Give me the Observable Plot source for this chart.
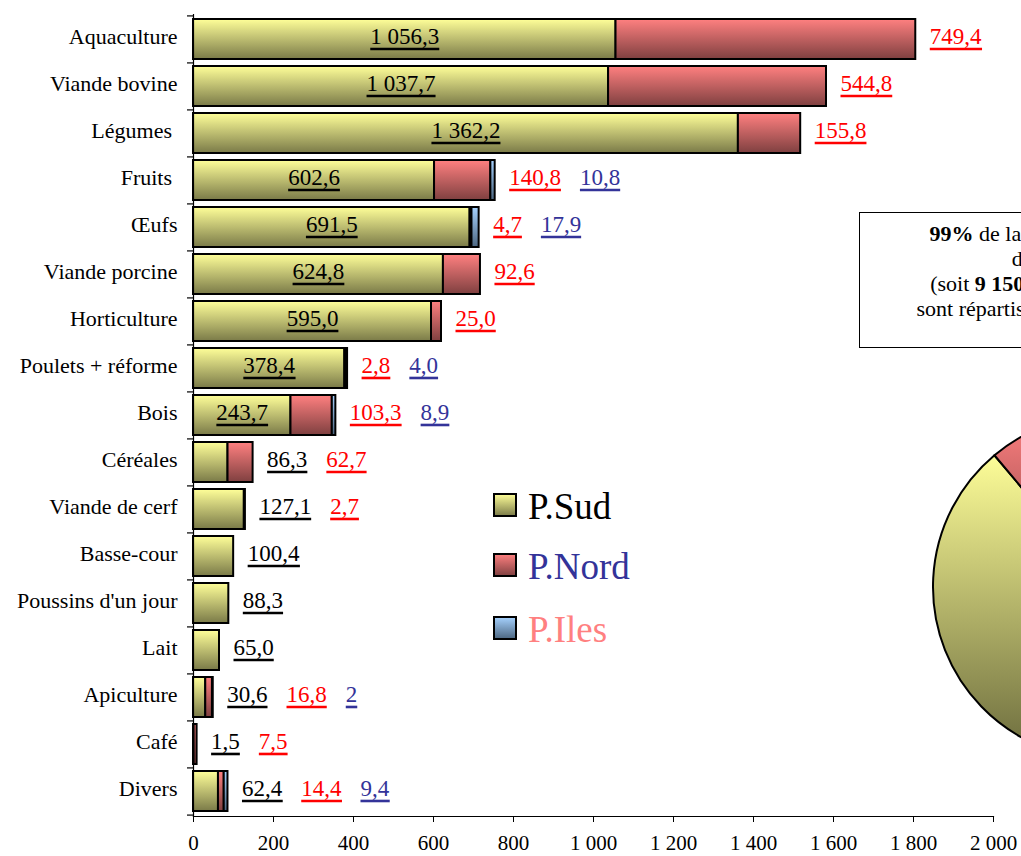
<!DOCTYPE html>
<html><head><meta charset="utf-8">
<script src="https://cdn.jsdelivr.net/npm/d3@7"></script>
<script src="https://cdn.jsdelivr.net/npm/@observablehq/plot@0.6"></script>
<style>
html,body{margin:0;padding:0;overflow:hidden;background:#fff}
#chart svg, #chart svg text, #chart svg tspan { font-family: 'Liberation Serif', 'Times New Roman', serif !important; }
</style>
</head><body><div id="chart"></div>
<script>
// ---- data ----
const categories = ["Aquaculture","Viande bovine","Légumes ","Fruits ","Œufs","Viande porcine","Horticulture","Poulets + réforme","Bois","Céréales","Viande de cerf","Basse-cour","Poussins d'un jour","Lait","Apiculture","Café","Divers"];
const seriesNames = ["P.Sud","P.Nord","P.Iles"];
const sudValues  = [1056.3,1037.7,1362.2,602.6,691.5,624.8,595.0,378.4,243.7,86.3,127.1,100.4,88.3,65.0,30.6,1.5,62.4];
const nordValues = [749.4,544.8,155.8,140.8,4.7,92.6,25.0,2.8,103.3,62.7,2.7,null,null,null,16.8,7.5,14.4];
const ilesValues = [null,null,null,10.8,17.9,null,null,4.0,8.9,null,null,null,null,null,2,null,9.4];
const labelOverrides = {"Apiculture|P.Iles": "2"};
const xTicks = [0,200,400,600,800,1000,1200,1400,1600,1800,2000];
const boxLines = [
  [["99%", true], [" de la production agricole", false]],
  [["du territoire", false]],
  [["(soit ", false], ["9 150", true], [" millions de F CFP)", false]],
  [["sont répartis entre les 3 provinces", false]]
];

// ---- layout / style ----
const W = 1021, H = 856;
const mL = 193, mR = 28, mT = 14, mB = 40;
const k = (W - mL - mR) / 2000;             // px per unit
const step = (H - mT - mB) / categories.length;
const labelFont = 23;
const serif = "'Liberation Serif','Times New Roman',serif";
const grads = {
  "P.Sud":  ["#FFFF99", "#7A7A48"],
  "P.Nord": ["#FF8080", "#7F4040"],
  "P.Iles": ["#A6D2FF", "#4C6680"]
};
const gradId = {"P.Sud": "gSud", "P.Nord": "gNord", "P.Iles": "gIles"};
const labelColor = {"P.Sud": "#000000", "P.Nord": "#FF0000", "P.Iles": "#333399"};

const fr = d3.formatLocale({decimal: ",", thousands: " ", grouping: [3]});
const fmt1 = fr.format(",.1f");
const fmt0 = fr.format(",d");

// ---- build tables ----
const valuesBySeries = {"P.Sud": sudValues, "P.Nord": nordValues, "P.Iles": ilesValues};
const rows = [];
categories.forEach((c, i) => {
  seriesNames.forEach(s => {
    const v = valuesBySeries[s][i];
    if (v != null) rows.push({cat: c, series: s, value: v});
  });
});
const totals = categories.map((c, i) => seriesNames.reduce((a, s) => a + (valuesBySeries[s][i] || 0), 0));

const ctx = document.createElement("canvas").getContext("2d");
ctx.font = `${labelFont}px 'Liberation Serif'`;
const textOf = (c, s, v) => labelOverrides[c + "|" + s] ?? fmt1(v);

const inside = [], outside = [];
categories.forEach((c, i) => {
  let cur = 14;
  seriesNames.forEach(s => {
    const v = valuesBySeries[s][i];
    if (v == null) return;
    const t = textOf(c, s, v);
    if (s === "P.Sud" && v >= 200) {
      inside.push({cat: c, series: s, x: v / 2, text: t});
    } else {
      outside.push({cat: c, series: s, x: totals[i] + cur / k, text: t});
      cur += ctx.measureText(t).width + 19;
    }
  });
});
const labelSet = new Set([...inside, ...outside].map(d => d.text));

const textMarks = [];
seriesNames.forEach(s => {
  textMarks.push(Plot.text(outside.filter(d => d.series === s), {
    x: "x", y: "cat", text: "text", textAnchor: "start", fill: labelColor[s],
    fontSize: labelFont, fontFamily: serif, dy: -3
  }));
});
textMarks.push(Plot.text(inside, {
  x: "x", y: "cat", text: "text", textAnchor: "middle", fill: labelColor["P.Sud"],
  fontSize: labelFont, fontFamily: serif, dy: -3
}));

const plot = Plot.plot({
  width: W, height: H,
  marginLeft: mL, marginRight: mR, marginTop: mT, marginBottom: mB,
  style: {fontFamily: serif, fontSize: "22px", color: "black", background: "white", overflow: "hidden"},
  x: {domain: [0, 2000], label: null},
  y: {domain: categories, paddingInner: 0.152, paddingOuter: 0.076, label: null},
  color: {domain: seriesNames, range: seriesNames.map(s => `url(#${gradId[s]})`)},
  marks: [
    Plot.barX(rows, {x: "value", y: "cat", fill: "series", stroke: "black", strokeWidth: 2, order: seriesNames}),
    Plot.frame({anchor: "left", stroke: "black", strokeWidth: 1.2}),
    Plot.frame({anchor: "bottom", stroke: "black", strokeWidth: 1.2}),
    Plot.axisX({ticks: xTicks, tickSize: 6, tickPadding: 13, fontSize: 21, tickFormat: fmt0, label: null, stroke: "black"}),
    Plot.axisY({tickSize: 0, tickPadding: 16, fontSize: 22, label: null, dy: -3, tickFormat: d => d.replace(/ $/, "\u00a0")}),
    Plot.ruleY(categories, {y: d => d, x1: 0, x2: 0, insetLeft: -6, dy: -step / 2, stroke: "black", strokeWidth: 1.2}),
    Plot.ruleY(categories.slice(-1), {y: d => d, x1: 0, x2: 0, insetLeft: -6, dy: step / 2, stroke: "black", strokeWidth: 1.2}),
    ...textMarks
  ]
});

document.getElementById("chart").appendChild(plot);
const svg = d3.select(plot);

// gradients
const defs = svg.insert("defs", ":first-child");
function addGrad(id, c0, c1) {
  const g = defs.append("linearGradient").attr("id", id).attr("x1", 0).attr("y1", 0).attr("x2", 0).attr("y2", 1);
  g.append("stop").attr("offset", "0%").attr("stop-color", c0);
  g.append("stop").attr("offset", "100%").attr("stop-color", c1);
}
seriesNames.forEach(s => addGrad(gradId[s], grads[s][0], grads[s][1]));
addGrad("gSudPie", "#FFFF99", "#6A6A3C");

// underlines under data labels (measured in svg pixel space)
const svgRect = plot.getBoundingClientRect();
const ulayer = svg.append("g");
svg.selectAll("text").each(function () {
  if (!labelSet.has(this.textContent)) return;
  const r = this.getBoundingClientRect();
  const col = this.getAttribute("fill") || (this.parentNode && this.parentNode.getAttribute("fill")) || "black";
  const x0 = r.left - svgRect.left, x1 = r.right - svgRect.left;
  const base = (r.top - svgRect.top) + r.height * 0.805;
  ulayer.append("line")
    .attr("x1", x0).attr("x2", x1)
    .attr("y1", base + 5).attr("y2", base + 5)
    .attr("stroke", col).attr("stroke-width", 2.6);
});

// legend
const legendColors = {"P.Sud": "#000000", "P.Nord": "#333399", "P.Iles": "#FF8080"};
const legendY = [505, 565, 628];
seriesNames.forEach((s, i) => {
  svg.append("rect").attr("x", 494).attr("y", legendY[i] - 11).attr("width", 22).attr("height", 22)
    .attr("fill", `url(#${gradId[s]})`).attr("stroke", "black").attr("stroke-width", 2);
  svg.append("text").attr("x", 528).attr("y", legendY[i] + 14).attr("text-anchor", "start")
    .attr("font-family", serif).attr("font-size", 37).attr("fill", legendColors[s]).text(s);
});

// annotation box
svg.append("rect").attr("x", 859.5).attr("y", 212.5).attr("width", 410).attr("height", 135)
  .attr("fill", "white").attr("stroke", "black").attr("stroke-width", 1);
boxLines.forEach((line, i) => {
  const t = svg.append("text").attr("x", 1064).attr("y", 241 + i * 25)
    .attr("text-anchor", "middle").attr("font-family", serif).attr("font-size", 22).attr("fill", "black");
  line.forEach(([str, bold]) => t.append("tspan").attr("font-weight", bold ? "bold" : "normal").text(str));
});

// pie of provincial totals
const pieTotals = seriesNames.map(s => d3.sum(valuesBySeries[s]));
const sudShare = pieTotals[0] / d3.sum(pieTotals);
const start = (320 / 180) * Math.PI - sudShare * 2 * Math.PI;
const arcs = d3.pie().sort(null).startAngle(start).endAngle(start + 2 * Math.PI)(pieTotals);
const arc = d3.arc().innerRadius(0).outerRadius(172);
const pieFill = ["url(#gSudPie)", "url(#gNord)", "url(#gIles)"];
svg.append("g").attr("transform", "translate(1105,587)")
  .selectAll("path").data(arcs).join("path")
  .attr("d", arc).attr("fill", (d, i) => pieFill[i])
  .attr("stroke", "black").attr("stroke-width", 2).attr("stroke-linejoin", "round");
</script></body></html>
